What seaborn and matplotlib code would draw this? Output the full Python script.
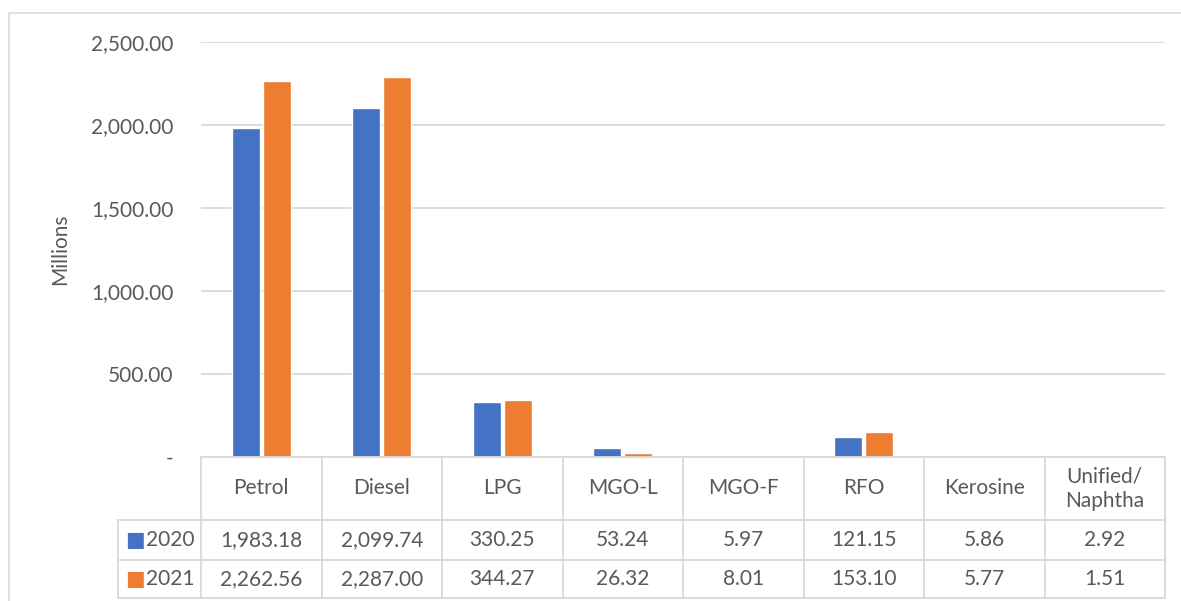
import matplotlib
matplotlib.use("Agg")
import matplotlib.pyplot as plt
import matplotlib.transforms as mtransforms
from matplotlib.patches import Rectangle
import seaborn as sns
import pandas as pd

# ---- data ----
categories = ["Petrol", "Diesel", "LPG", "MGO-L", "MGO-F", "RFO", "Kerosine", "Unified/\nNaphtha"]
series_names = ["2020", "2021"]
values_2020 = [1983.18, 2099.74, 330.25, 53.24, 5.97, 121.15, 5.86, 2.92]
values_2021 = [2262.56, 2287.00, 344.27, 26.32, 8.01, 153.10, 5.77, 1.51]
yticks = [0, 500, 1000, 1500, 2000, 2500]

colors = ["#4472C4", "#ED7D31"]
text_color = "#595959"
grid_color = "#D9D9D9"
FS = 15

sns.set_theme(style="white")
plt.rcParams["font.family"] = ["Lato", "DejaVu Sans"]

df = pd.DataFrame({
    "category": categories * 2,
    "value": values_2020 + values_2021,
    "year": [series_names[0]] * len(categories) + [series_names[1]] * len(categories),
})

W, H = 1181, 601
fig = plt.figure(figsize=(W / 100, H / 100), dpi=100)

# outer frame
fig.add_artist(Rectangle((9 / W, -0.05), 1.2, 1 - 13 / H + 0.05, transform=fig.transFigure,
                         fill=False, edgecolor="#D9D9D9", linewidth=1.2))

left, right, top, bottom = 201, 1165, 42, 457
ax = fig.add_axes([left / W, 1 - bottom / H, (right - left) / W, (bottom - top) / H])

sns.barplot(data=df, x="category", y="value", hue="year", palette=colors,
            width=0.52, gap=0.11, ax=ax, legend=False, saturation=1)

ax.set_xlim(-0.5, len(categories) - 0.5)
ax.set_ylim(0, 2500)
ax.set_yticks(yticks)
ax.set_yticklabels(["-" if v == 0 else f"{v:,.2f}" for v in yticks])
ax.tick_params(axis="y", length=0, pad=20, labelsize=FS, labelcolor=text_color)
ax.set_xticks([])
ax.set_xlabel("")
ax.set_ylabel("Millions", fontsize=FS, color=text_color, labelpad=15)
ax.yaxis.grid(True, color=grid_color, linewidth=1.3)
ax.set_axisbelow(True)
for s in ax.spines.values():
    s.set_visible(False)

# ---- data table ----
trans = mtransforms.blended_transform_factory(ax.transData, ax.transAxes)
h_px = bottom - top
row_edges_px = [0, 63, 103, 141]
row_edges = [-r / h_px for r in row_edges_px]
n = len(categories)
legend_left = -0.5 - (201 - 118) / ((right - left) / n)
lc = "#D9D9D9"
lw = 1.3

def hline(x0, x1, y):
    ax.plot([x0, x1], [y, y], transform=trans, color=lc, lw=lw, clip_on=False)

def vline(x, y0, y1):
    ax.plot([x, x], [y0, y1], transform=trans, color=lc, lw=lw, clip_on=False)

hline(-0.5, n - 0.5, row_edges[0])
for y in row_edges[1:]:
    hline(legend_left, n - 0.5, y)
vline(legend_left, row_edges[1], row_edges[3])
for i in range(n + 1):
    vline(i - 0.5, row_edges[0], row_edges[3])

def mid(a, b):
    return (a + b) / 2

for i, cat in enumerate(categories):
    ax.text(i, mid(row_edges[0], row_edges[1]), cat, transform=trans, ha="center", va="center",
            fontsize=FS, color=text_color, linespacing=1.3, clip_on=False)
    ax.text(i, mid(row_edges[1], row_edges[2]), f"{values_2020[i]:,.2f}", transform=trans,
            ha="center", va="center", fontsize=FS, color=text_color, clip_on=False)
    ax.text(i, mid(row_edges[2], row_edges[3]), f"{values_2021[i]:,.2f}", transform=trans,
            ha="center", va="center", fontsize=FS, color=text_color, clip_on=False)

for r, (name, c) in enumerate(zip(series_names, colors)):
    ymid = mid(row_edges[r + 1], row_edges[r + 2])
    ax.text(legend_left + 0.06, ymid, "■", transform=trans, ha="left", va="center",
            fontsize=15, color=c, family="DejaVu Sans", clip_on=False)
    ax.text(legend_left + 0.235, ymid, name, transform=trans, ha="left", va="center",
            fontsize=FS, color=text_color, clip_on=False)

fig.savefig("out.png", dpi=100, facecolor="white")
